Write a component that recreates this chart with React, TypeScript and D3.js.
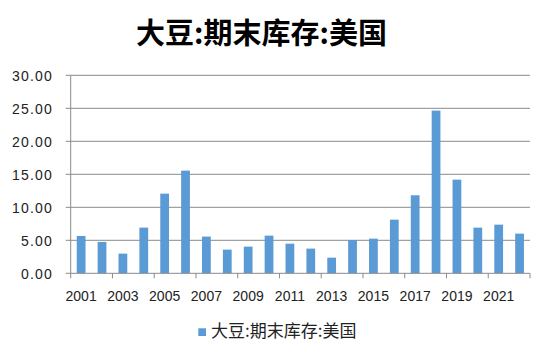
import React from "react";
import * as d3 from "d3";

const title = "大豆:期末库存:美国";
const seriesName = "大豆:期末库存:美国";
const years = ["2001","2002","2003","2004","2005","2006","2007","2008","2009","2010","2011","2012","2013","2014","2015","2016","2017","2018","2019","2020","2021","2022"];
const values = [5.66, 4.75, 2.98, 6.92, 12.07, 15.56, 5.56, 3.59, 4.04, 5.71, 4.49, 3.74, 2.37, 5.05, 5.25, 8.13, 11.82, 24.65, 14.19, 6.92, 7.37, 6.01];
const yTicks = [0, 5, 10, 15, 20, 25, 30];

const W = 550, H = 358;
const left = 70.7, right = 530, top = 75.3, bottom = 273.3;
const barColor = "#5B9BD5";
const gridColor = "#8a8a8a";

export default function App() {
  const x = d3.scaleBand<string>().domain(years).range([left, right]).paddingInner(0.58).paddingOuter(0.29);
  const xb = d3.scaleBand<string>().domain(years).range([left, right]);
  const y = d3.scaleLinear().domain([0, 30]).range([bottom, top]);
  const fmt = d3.format(".2f");
  const tickIdx = d3.range(0, years.length + 1, 2);
  return (
    <svg width={W} height={H} style={{ position: "absolute", left: 0, top: 0 }}>
      <rect width={W} height={H} fill="#fff" />
      <text x={261.5} y={43.5} textAnchor="middle" fontFamily="'Noto Sans CJK SC'" fontWeight="bold" fontSize={29} fill="#000">{title}</text>
      {yTicks.map(t => (
        <g key={t}>
          {t > 0 && <line x1={left} x2={right} y1={y(t)} y2={y(t)} stroke={gridColor} strokeWidth={1} />}
          <line x1={left - 5} x2={left} y1={y(t)} y2={y(t)} stroke={gridColor} />
          <text x={53} y={y(t) + 5.3} textAnchor="end" fontFamily="'Liberation Sans'" fontSize={14} letterSpacing={1.2} fill="#222">{fmt(t)}</text>
        </g>
      ))}
      <line x1={left} x2={left} y1={top} y2={bottom} stroke={gridColor} />
      {years.map((yr, i) => (
        <rect key={yr} x={x(yr)} y={y(values[i])} width={x.bandwidth()} height={bottom - y(values[i])} fill={barColor} />
      ))}
      <line x1={left} x2={right} y1={bottom} y2={bottom} stroke={gridColor} />
      {tickIdx.map(i => {
        const px = left + i * xb.step();
        return <line key={i} x1={px} x2={px} y1={bottom} y2={bottom + 5} stroke={gridColor} />;
      })}
      {years.map((yr, i) => i % 2 === 0 && (
        <text key={yr} x={(xb(yr) as number) + xb.bandwidth() / 2} y={300.7} textAnchor="middle" fontFamily="'Liberation Sans'" fontSize={14} fill="#222">{yr}</text>
      ))}
      <rect x={198.3} y={328.3} width={7.7} height={7.7} fill={barColor} />
      <text x={211} y={336.5} fontFamily="'Noto Sans CJK SC'" fontSize={17} fill="#222">{seriesName}</text>
    </svg>
  );
}
